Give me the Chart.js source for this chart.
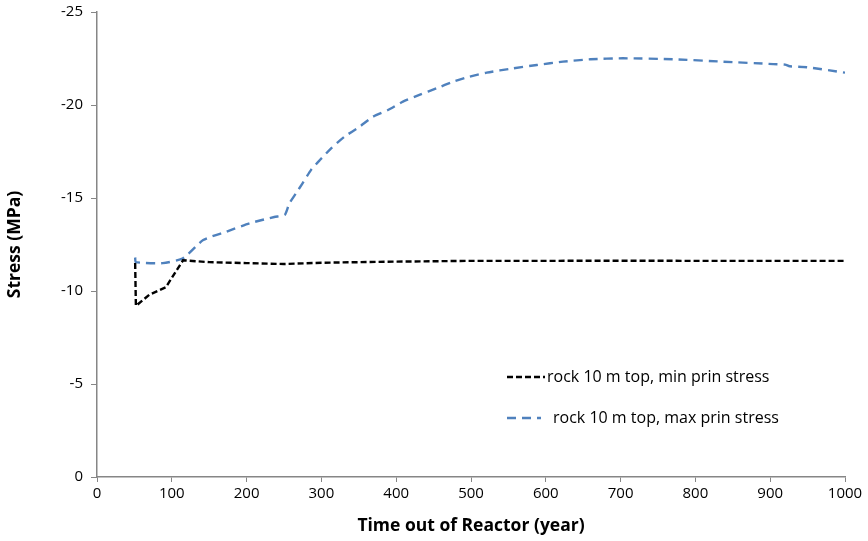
<!DOCTYPE html>
<html>
<head>
<meta charset="utf-8">
<script src="https://cdn.jsdelivr.net/npm/chart.js@4/dist/chart.umd.min.js"></script>
<style>
  html, body { margin: 0; padding: 0; background: #fff; }
  #wrap { width: 868px; height: 541px; }
</style>
</head>
<body>
<div id="wrap"><canvas id="chart"></canvas></div>
<script>
// values
const minYears  = [51, 52, 70, 92, 115, 150, 200, 250, 300, 400, 500, 600, 700, 800, 900, 1000];
const minStress = [-11.5, -9.2, -9.8, -10.2, -11.65, -11.55, -11.5, -11.45, -11.52, -11.58, -11.62, -11.62, -11.63, -11.62, -11.62, -11.62];

const maxYears  = [51, 52, 88, 115, 142, 173, 204, 237, 251, 257, 266, 275, 286, 298, 313, 331, 351, 369, 389, 409, 431, 454, 476, 498, 521, 556, 588, 623, 660, 703, 770, 837, 904, 920, 926, 949, 1000];
const maxStress = [-11.8, -11.55, -11.5, -11.76, -12.74, -13.19, -13.64, -13.98, -14.09, -14.7, -15.25, -15.8, -16.5, -17.04, -17.67, -18.3, -18.83, -19.37, -19.73, -20.18, -20.54, -20.9, -21.25, -21.52, -21.74, -21.97, -22.15, -22.33, -22.46, -22.51, -22.46, -22.33, -22.2, -22.17, -22.08, -22.03, -21.74];

const xTicks = [0, 100, 200, 300, 400, 500, 600, 700, 800, 900, 1000];
const yTicks = [-25, -20, -15, -10, -5, 0];

const seriesNames = ['rock 10 m top, min prin stress', 'rock 10 m top, max prin stress'];

const toPoints = (xs, ys) => xs.map((x, i) => ({x: x, y: ys[i]}));

const axisColor = '#868686';
const font = 'Open Sans';

// legend drawn inside the plot, like the Excel original
const insideLegend = {
    id: 'insideLegend',
    afterDraw(chart) {
        const ctx = chart.ctx;
        const rows = [
            {y: 377, x1: 507, x2: 545, tx: 547},
            {y: 418, x1: 507, x2: 541, tx: 553}
        ];
        ctx.save();
        chart.data.datasets.forEach((ds, i) => {
            const r = rows[i];
            ctx.strokeStyle = ds.borderColor;
            ctx.lineWidth = ds.borderWidth;
            ctx.setLineDash(ds.borderDash);
            ctx.beginPath();
            ctx.moveTo(r.x1, r.y);
            ctx.lineTo(r.x2, r.y);
            ctx.stroke();
            ctx.setLineDash([]);
            ctx.fillStyle = '#000';
            ctx.font = '16px "' + font + '"';
            ctx.textBaseline = 'middle';
            ctx.fillText(ds.label, r.tx, r.y);
        });
        ctx.restore();
    }
};

new Chart(document.getElementById('chart').getContext('2d'), {
    type: 'line',
    data: {
        datasets: [
            {
                label: seriesNames[0],
                data: toPoints(minYears, minStress),
                borderColor: '#000000',
                borderWidth: 2.4,
                borderDash: [6, 3],
                pointRadius: 0,
                tension: 0
            },
            {
                label: seriesNames[1],
                data: toPoints(maxYears, maxStress),
                borderColor: '#4F81BD',
                borderWidth: 2.4,
                borderDash: [9, 6],
                pointRadius: 0,
                tension: 0.2
            }
        ]
    },
    options: {
        responsive: true,
        maintainAspectRatio: false,
        animation: false,
        layout: {padding: {left: 0, right: 23, top: 12, bottom: 0}},
        plugins: {
            legend: {display: false},
            tooltip: {enabled: false}
        },
        scales: {
            x: {
                type: 'linear',
                min: 0,
                max: 1000,
                afterBuildTicks: (axis) => { axis.ticks = xTicks.map(v => ({value: v})); },
                afterFit: (axis) => { axis.height = 64; },
                grid: {display: true, drawOnChartArea: false, drawTicks: true, tickLength: 5, color: axisColor},
                border: {color: axisColor, width: 1.5},
                ticks: {color: '#000', font: {family: font, size: 15}, padding: 3, maxRotation: 0, callback: (v) => String(v)},
                title: {
                    display: true,
                    text: 'Time out of Reactor (year)',
                    color: '#000',
                    font: {family: font, size: 17.5, weight: 'bold'},
                    padding: {top: 0}
                }
            },
            y: {
                type: 'linear',
                min: -25,
                max: 0,
                reverse: true,
                afterBuildTicks: (axis) => { axis.ticks = yTicks.map(v => ({value: v})); },
                afterFit: (axis) => {
                    axis.width = 97;
                    axis.paddingTop = 0;
                    axis.paddingBottom = 0;
                },
                grid: {display: true, drawOnChartArea: false, drawTicks: true, tickLength: 6, color: axisColor},
                border: {color: axisColor, width: 1.5},
                ticks: {color: '#000', font: {family: font, size: 15}, padding: 8},
                title: {
                    display: true,
                    text: 'Stress (MPa)',
                    color: '#000',
                    font: {family: font, size: 17.5, weight: 'bold'},
                    padding: {top: 5, bottom: 10}
                }
            }
        }
    },
    plugins: [insideLegend]
});
</script>
</body>
</html>
